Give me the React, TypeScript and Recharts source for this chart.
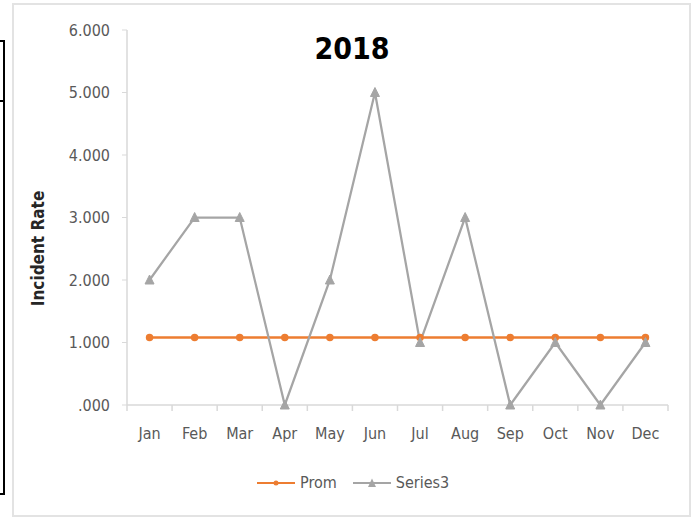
import React from "react";
import { LineChart, Line, XAxis, YAxis } from "recharts";

// values
const months = ["Jan", "Feb", "Mar", "Apr", "May", "Jun", "Jul", "Aug", "Sep", "Oct", "Nov", "Dec"];
const prom = [1.08, 1.08, 1.08, 1.08, 1.08, 1.08, 1.08, 1.08, 1.08, 1.08, 1.08, 1.08];
const series3 = [2, 3, 3, 0, 2, 5, 1, 3, 0, 1, 0, 1];
const yTicks = [0, 1, 2, 3, 4, 5, 6];

const data = months.map((m, i) => ({ month: m, Prom: prom[i], Series3: series3[i] }));

const FONT = "'DejaVu Sans Condensed', 'DejaVu Sans', sans-serif";
const ORANGE = "#ED7D31";
const GRAY = "#A5A5A5";
const AXIS = "#D9D9D9";
const TEXT = "#595959";

const fmtY = (v: number) => (v === 0 ? ".000" : v.toFixed(3));

function Triangle(props: any) {
  const { cx, cy } = props;
  if (cx == null || cy == null) return null;
  return (
    <polygon
      points={`${cx},${cy - 5} ${cx - 4.5},${cy + 4} ${cx + 4.5},${cy + 4}`}
      fill={GRAY}
      stroke={GRAY}
    />
  );
}

// Excel style: tick marks sit between categories, label in the middle
function MonthTick(props: any) {
  const { x, y, payload, index, visibleTicksCount } = props;
  const half = payload.offset || 0;
  const last = index === (visibleTicksCount ?? months.length) - 1;
  return (
    <g>
      <line x1={x - half} y1={y - 16} x2={x - half} y2={y - 10} stroke={AXIS} strokeWidth={1.5} />
      {last && <line x1={x + half} y1={y - 16} x2={x + half} y2={y - 10} stroke={AXIS} strokeWidth={1.5} />}
      <text x={x} y={y} dy={18} textAnchor="middle" fill={TEXT} fontSize={16} fontFamily={FONT}>
        {payload.value}
      </text>
    </g>
  );
}

function YTitle(props: any) {
  const vb = props.viewBox || {};
  const x = vb.x + 11;
  const y = vb.y + vb.height / 2 + 31;
  return (
    <text
      x={x}
      y={y}
      transform={`rotate(-90 ${x} ${y})`}
      textAnchor="middle"
      dominantBaseline="central"
      fontFamily={FONT}
      fontWeight="bold"
      fontSize={17}
      fill="#262626"
    >
      Incident Rate
    </text>
  );
}

function LegendItem({ color, label, triangle }: { color: string; label: string; triangle?: boolean }) {
  return (
    <div style={{ display: "flex", alignItems: "center", marginRight: 16 }}>
      <svg width={38} height={12} style={{ marginRight: 5 }}>
        <line x1={0} y1={6} x2={38} y2={6} stroke={color} strokeWidth={2} />
        {triangle ? (
          <polygon points="19,1.5 15,10 23,10" fill={color} />
        ) : (
          <circle cx={19} cy={6} r={2.5} fill={color} />
        )}
      </svg>
      <span>{label}</span>
    </div>
  );
}

export default function App() {
  return (
    <div style={{ position: "absolute", left: 0, top: 0, width: 691, height: 517, background: "#fff", overflow: "hidden" }}>
      {/* edge of the neighbouring table */}
      <div style={{ position: "absolute", left: 0, top: 40, width: 3, height: 58, borderTop: "2px solid #000", borderRight: "2px solid #000" }} />
      <div style={{ position: "absolute", left: 0, top: 100, width: 3, height: 391, borderTop: "2px solid #000", borderRight: "2px solid #000", borderBottom: "2px solid #000" }} />

      {/* chart frame */}
      <div style={{ position: "absolute", left: 12, top: 3, width: 675, height: 510, border: "2px solid #E3E3E3" }} />

      <div style={{ position: "absolute", left: 13, top: 3 }}>
        <LineChart width={677} height={512} data={data} margin={{ top: 27, right: 22, left: 14, bottom: 80 }}>
          <XAxis
            dataKey="month"
            scale="band"
            height={30}
            axisLine={{ stroke: AXIS, strokeWidth: 1.5 }}
            tickLine={false}
            tickSize={0}
            tickMargin={16}
            interval={0}
            tick={<MonthTick />}
          />
          <YAxis
            width={100}
            domain={[0, 6]}
            ticks={yTicks}
            tickFormatter={fmtY}
            axisLine={{ stroke: AXIS, strokeWidth: 1.5 }}
            tickLine={{ stroke: AXIS }}
            tickSize={5}
            tickMargin={12}
            tick={{ fill: TEXT, fontSize: 16, fontFamily: FONT }}
            label={<YTitle />}
          />
          <Line
            dataKey="Prom"
            stroke={ORANGE}
            strokeWidth={2.5}
            dot={{ r: 2.5, fill: ORANGE, stroke: ORANGE }}
            isAnimationActive={false}
          />
          <Line
            dataKey="Series3"
            stroke={GRAY}
            strokeWidth={2.25}
            dot={<Triangle />}
            isAnimationActive={false}
          />
        </LineChart>
      </div>

      <div
        style={{
          position: "absolute",
          left: 252,
          top: 48,
          width: 200,
          textAlign: "center",
          transform: "translateY(-50%)",
          fontFamily: FONT,
          fontWeight: "bold",
          fontSize: 30,
          color: "#000",
        }}
      >
        2018
      </div>

      <div
        style={{
          position: "absolute",
          left: 257,
          top: 473,
          display: "flex",
          fontFamily: FONT,
          fontSize: 16,
          color: TEXT,
          lineHeight: "20px",
        }}
      >
        <LegendItem color={ORANGE} label="Prom" />
        <LegendItem color={GRAY} label="Series3" triangle />
      </div>
    </div>
  );
}
